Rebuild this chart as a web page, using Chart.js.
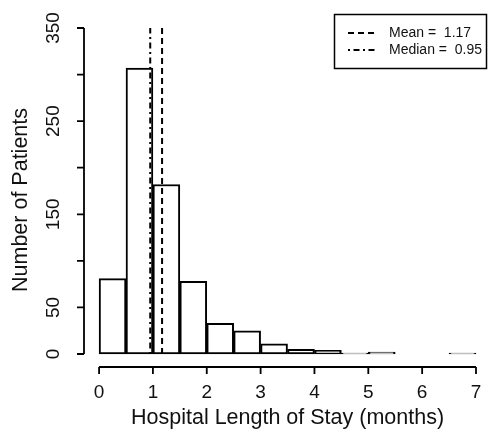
<!DOCTYPE html>
<html>
<head>
<meta charset="utf-8">
<script src="https://cdn.jsdelivr.net/npm/chart.js@4"></script>
<style>
  html, body { margin: 0; padding: 0; background: #fff; }
  #wrap { width: 488px; height: 441px; }
</style>
</head>
<body>
<div id="wrap"><canvas id="hist"></canvas></div>
<script>
// histogram bins (months), 0.5 wide
const binCenters = [0.25, 0.75, 1.25, 1.75, 2.25, 2.75, 3.25, 3.75, 4.25, 4.75, 5.25, 5.75, 6.25, 6.75];
const patientCounts = [81, 307, 182, 78, 33, 25, 11, 5, 4, 1, 2, 0, 0, 1];

const meanStay = 1.17;
const medianStay = 0.95;

const xTicks = [0, 1, 2, 3, 4, 5, 6, 7];
const yTicks = [0, 50, 100, 150, 200, 250, 300, 350];
const yTickLabels = ['0', '50', '', '150', '', '250', '', '350'];

const legendLabels = ['Mean =  ' + meanStay.toFixed(2), 'Median =  ' + medianStay.toFixed(2)];

const FONT = '"Liberation Sans", Arial, sans-serif';
const meanDash = [6, 4];
const medianDash = [2, 3.5, 6, 3.5];

// axes drawn R-style: detached lines, rotated y labels, boxed legend
const rAxes = {
  id: 'rAxes',
  afterDraw(chart) {
    const { ctx, chartArea, scales: { x, y } } = chart;
    ctx.save();
    ctx.strokeStyle = '#000';
    ctx.fillStyle = '#111';
    ctx.lineWidth = 1.8;

    // x axis
    const xa = chartArea.bottom + 13;
    ctx.beginPath();
    ctx.moveTo(x.getPixelForValue(xTicks[0]), xa);
    ctx.lineTo(x.getPixelForValue(xTicks[xTicks.length - 1]), xa);
    xTicks.forEach(v => {
      const px = x.getPixelForValue(v);
      ctx.moveTo(px, xa);
      ctx.lineTo(px, xa + 7);
    });
    ctx.stroke();
    ctx.font = '19px ' + FONT;
    ctx.textAlign = 'center';
    ctx.textBaseline = 'middle';
    xTicks.forEach(v => ctx.fillText(String(v), x.getPixelForValue(v), xa + 26));
    ctx.font = '21.5px ' + FONT;
    ctx.fillText('Hospital Length of Stay (months)', (x.getPixelForValue(0) + x.getPixelForValue(7)) / 2, xa + 51);

    // y axis
    const ya = chartArea.left;
    ctx.beginPath();
    ctx.moveTo(ya, y.getPixelForValue(yTicks[0]));
    ctx.lineTo(ya, y.getPixelForValue(yTicks[yTicks.length - 1]));
    yTicks.forEach(v => {
      const py = y.getPixelForValue(v);
      ctx.moveTo(ya, py);
      ctx.lineTo(ya - 7, py);
    });
    ctx.stroke();
    ctx.font = '19px ' + FONT;
    yTicks.forEach((v, i) => {
      if (!yTickLabels[i]) return;
      ctx.save();
      ctx.translate(ya - 30, y.getPixelForValue(v));
      ctx.rotate(-Math.PI / 2);
      ctx.fillText(yTickLabels[i], 0, 0);
      ctx.restore();
    });
    ctx.save();
    ctx.font = '21.5px ' + FONT;
    ctx.translate(21, 200);
    ctx.rotate(-Math.PI / 2);
    ctx.fillText('Number of Patients', 0, 0);
    ctx.restore();

    // legend
    ctx.lineWidth = 1.5;
    ctx.strokeRect(334.5, 14.5, 152, 54);
    ctx.font = '14px ' + FONT;
    ctx.textAlign = 'left';
    [meanDash, medianDash].forEach((dash, i) => {
      const ly = 33 + i * 17;
      ctx.setLineDash(dash);
      ctx.lineWidth = 2;
      ctx.beginPath();
      ctx.moveTo(348, ly);
      ctx.lineTo(375, ly);
      ctx.stroke();
      ctx.setLineDash([]);
      ctx.fillText(legendLabels[i], 389, ly);
    });
    ctx.restore();
  }
};

new Chart(document.getElementById('hist'), {
  type: 'bar',
  data: {
    datasets: [
      {
        type: 'line',
        data: [{ x: meanStay, y: 0 }, { x: meanStay, y: 350 }],
        borderColor: '#000',
        borderWidth: 2,
        borderDash: meanDash,
        pointRadius: 0,
        order: 0
      },
      {
        type: 'line',
        data: [{ x: medianStay, y: 0 }, { x: medianStay, y: 350 }],
        borderColor: '#000',
        borderWidth: 2,
        borderDash: medianDash,
        pointRadius: 0,
        order: 0
      },
      {
        data: binCenters.map((c, i) => ({ x: c, y: patientCounts[i] })),
        backgroundColor: '#fff',
        borderColor: '#000',
        borderWidth: 2,
        borderSkipped: false,
        barPercentage: 1,
        categoryPercentage: 1,
        grouped: false,
        clip: false,
        order: 1
      }
    ]
  },
  options: {
    responsive: true,
    maintainAspectRatio: false,
    animation: false,
    layout: { padding: { left: 84, right: 0, top: 28, bottom: 87 } },
    plugins: { legend: { display: false }, tooltip: { enabled: false } },
    scales: {
      x: { type: 'linear', min: -0.28, max: 7.223, offset: false, display: false },
      y: { min: 0, max: 350, display: false }
    }
  },
  plugins: [rAxes]
});
</script>
</body>
</html>
